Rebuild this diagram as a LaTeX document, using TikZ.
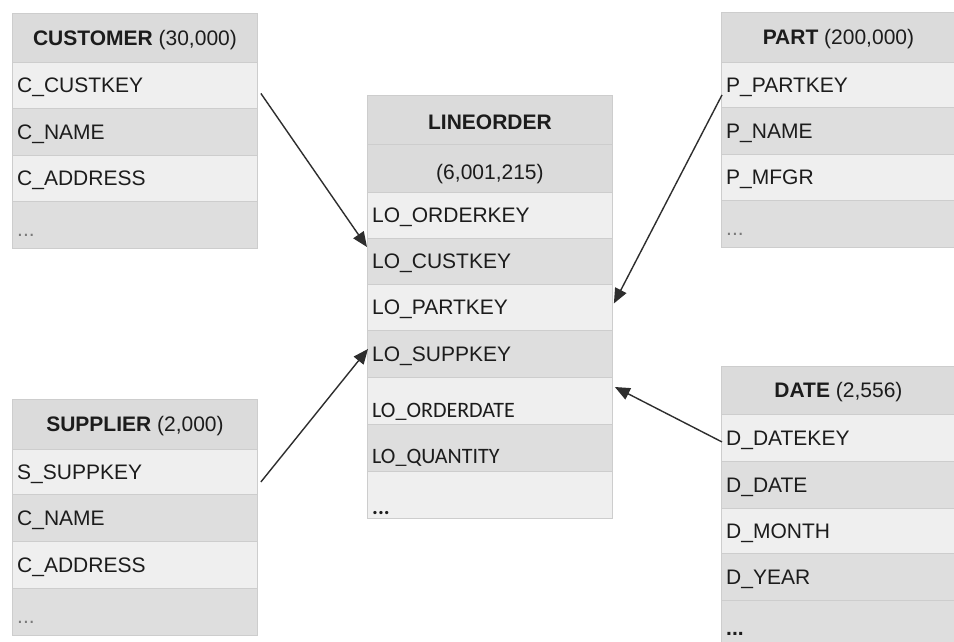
\documentclass[tikz,border=0pt]{standalone}
\usepackage{fontspec}
\setmainfont{Liberation Sans}
\newfontfamily\calib{Carlito}
\usetikzlibrary{arrows.meta}

\definecolor{hdr}{HTML}{DBDBDB}
\definecolor{lite}{HTML}{EFEFEF}
\definecolor{dark}{HTML}{DEDEDE}
\definecolor{rule}{HTML}{CDCDCD}
\definecolor{ink}{HTML}{1C1C1C}
\definecolor{dots}{HTML}{7A7A7A}
\definecolor{wire}{HTML}{2E2E2E}

\tikzset{
  cellbox/.style={draw=rule, line width=0.9pt, inner sep=0pt, anchor=north west},
  celltext/.style={font=\fontsize{21}{21}\selectfont, text=ink, inner sep=0pt,
    text height=15pt, text depth=0pt, anchor=west},
  headtext/.style={font=\fontsize{21}{21}\selectfont, text=ink, inner sep=0pt,
    text height=15pt, text depth=0pt},
  condtext/.style={font=\calib\fontsize{22}{22}\selectfont, text=ink, inner sep=0pt,
    text height=14pt, text depth=0pt, anchor=west},
  link/.style={draw=wire, line width=1.4pt, -{Triangle[length=15pt,width=12.5pt]}},
}

% one field row of a table: name, x, top y, width, height, fill, text
\newcommand\fieldrow[7]{%
  \node[cellbox, fill=#6, minimum width=#4pt, minimum height=#5pt] (#1) at (#2,#3) {};
  \node[celltext] (#1-t) at ([xshift=5pt]#1.west) {#7};}
% an empty row box: name, x, top y, width, height, fill
\newcommand\blankrow[6]{%
  \node[cellbox, fill=#6, minimum width=#4pt, minimum height=#5pt] (#1) at (#2,#3) {};}

\begin{document}
\begin{tikzpicture}[x=1pt,y=-1pt]
\useasboundingbox (0,0) rectangle (954,641);
\fill[white] (0,0) rectangle (954,641);

% ---------------- CUSTOMER ----------------
\blankrow{cust}{12}{13}{245}{49}{hdr}
\node[headtext] (cust-t) at (cust.center) {\textbf{CUSTOMER} (30,000)};
\fieldrow{c1}{12}{62}{245}{46}{lite}{C\_CUSTKEY}
\fieldrow{c2}{12}{108}{245}{47}{dark}{C\_NAME}
\fieldrow{c3}{12}{155}{245}{46}{lite}{C\_ADDRESS}
\blankrow{c4}{12}{201}{245}{47}{dark}
\node[celltext, text=dots] (c4-t) at ([xshift=5pt,yshift=-4pt]c4.west) {...};

% ---------------- SUPPLIER ----------------
\blankrow{supp}{12}{399}{245}{50}{hdr}
\node[headtext] (supp-t) at (supp.center) {\textbf{SUPPLIER} (2,000)};
\fieldrow{s1}{12}{449}{245}{45}{lite}{S\_SUPPKEY}
\fieldrow{s2}{12}{494}{245}{47}{dark}{C\_NAME}
\fieldrow{s3}{12}{541}{245}{47}{lite}{C\_ADDRESS}
\blankrow{s4}{12}{588}{245}{47}{dark}
\node[celltext, text=dots] (s4-t) at ([xshift=5pt,yshift=-4pt]s4.west) {...};

% ---------------- PART ----------------
\blankrow{part}{721}{12}{240}{50}{hdr}
\node[headtext] (part-t) at ([xshift=-3pt]part.center) {\textbf{PART} (200,000)};
\fieldrow{p1}{721}{62}{240}{45}{lite}{P\_PARTKEY}
\fieldrow{p2}{721}{107}{240}{47}{dark}{P\_NAME}
\fieldrow{p3}{721}{154}{240}{46}{lite}{P\_MFGR}
\blankrow{p4}{721}{200}{240}{47}{dark}
\node[celltext, text=dots] (p4-t) at ([xshift=5pt,yshift=-4pt]p4.west) {...};

% ---------------- DATE ----------------
\blankrow{date}{721}{366}{240}{48}{hdr}
\node[headtext] (date-t) at ([xshift=-3pt]date.center) {\textbf{DATE} (2,556)};
\fieldrow{d1}{721}{414}{240}{47}{lite}{D\_DATEKEY}
\fieldrow{d2}{721}{461}{240}{47}{dark}{D\_DATE}
\fieldrow{d3}{721}{508}{240}{45}{lite}{D\_MONTH}
\fieldrow{d4}{721}{553}{240}{47}{dark}{D\_YEAR}
\blankrow{d5}{721}{600}{240}{48}{dark}
\node[celltext] (d5-t) at ([xshift=5pt,yshift=-4pt]d5.west) {\textbf{...}};

% ---------------- LINEORDER ----------------
\blankrow{lo}{367}{95}{245}{49}{hdr}
\node[headtext] (lo-t) at ([yshift=-2pt]lo.center) {\textbf{LINEORDER}};
\blankrow{lo-n}{367}{144}{245}{48}{hdr}
\node[headtext] (lo-n-t) at ([yshift=-4pt]lo-n.center) {(6,001,215)};
\fieldrow{lo-ord}{367}{192}{245}{46}{lite}{LO\_ORDERKEY}
\fieldrow{lo-cust}{367}{238}{245}{46}{dark}{LO\_CUSTKEY}
\fieldrow{lo-part}{367}{284}{245}{46}{lite}{LO\_PARTKEY}
\fieldrow{lo-supp}{367}{330}{245}{47}{dark}{LO\_SUPPKEY}
\blankrow{lo-date}{367}{377}{245}{47}{lite}
\node[condtext] (lo-date-t) at ([xshift=5pt,yshift=-10pt]lo-date.west) {LO\_ORDERDATE};
\blankrow{lo-qty}{367}{424}{245}{47}{dark}
\node[condtext] (lo-qty-t) at ([xshift=5pt,yshift=-9pt]lo-qty.west) {LO\_QUANTITY};
\blankrow{lo-more}{367}{471}{245}{47}{lite}
\node[condtext] (lo-more-t) at ([xshift=5pt,yshift=-13pt]lo-more.west) {\textbf{...}};

% ---------------- foreign keys ----------------
\draw[link] ([xshift=3pt,yshift=-8pt]c1.east) -- ([yshift=-9pt]lo-cust.north west);
\draw[link] ([xshift=1pt,yshift=-10pt]p1.west) -- ([xshift=1pt,yshift=4pt]lo-part.east);
\draw[link] ([xshift=3pt,yshift=-10pt]s1.east) -- ([xshift=1pt,yshift=5pt]lo-supp.west);
\draw[link] ([xshift=1pt,yshift=-4pt]d1.west) -- ([xshift=2pt,yshift=-10pt]lo-date.north east);
\end{tikzpicture}
\end{document}
